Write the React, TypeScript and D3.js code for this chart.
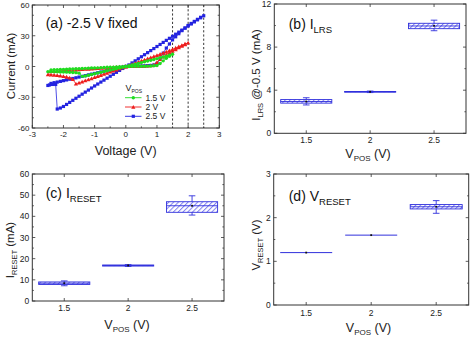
import React from "react";
import * as d3 from "d3";

const FONT = "'Liberation Sans', Arial, sans-serif";
const BLUE = "#3030dc";
const HATCH = "#8080f0";
const AXC = "#333";

// ---------- Panel (a) data: I-V sweeps [V, mA] ----------
const greenIV: [number, number][] = [
  [0,0],[0.1,0.05],[0.2,0.1],[0.3,0.15],[0.4,0.2],[0.5,0.25],[0.6,0.3],[0.7,0.4],[0.8,0.5],[0.9,0.7],[1.0,1],[1.1,3],[1.2,5.5],[1.3,8],[1.4,10],[1.5,12],
  [1.4,11],[1.3,10.1],[1.2,9.3],[1.1,8.5],[1.0,7.7],[0.9,6.9],[0.8,6.1],[0.7,5.4],[0.6,4.6],[0.5,3.8],[0.4,3],[0.3,2.3],[0.2,1.5],[0.1,0.8],[0,0],
  [-0.1,-0.7],[-0.2,-1.4],[-0.3,-2.1],[-0.4,-2.8],[-0.5,-3.5],[-0.6,-4.2],[-0.7,-4.9],[-0.8,-5.6],[-0.9,-6.3],[-1.0,-7],[-1.1,-7.8],[-1.2,-8.5],[-1.3,-9.2],[-1.4,-9.6],
  [-1.5,-6.5],[-1.6,-6],[-1.7,-5.8],[-1.8,-5.6],[-1.9,-5.5],[-2.0,-5.4],[-2.1,-5.3],[-2.2,-5.2],[-2.3,-5.1],[-2.4,-5],[-2.5,-5],
  [-2.4,-3.4],[-2.3,-3.2],[-2.2,-3.1],[-2.1,-2.9],[-2.0,-2.8],[-1.9,-2.7],[-1.8,-2.5],[-1.7,-2.4],[-1.6,-2.2],[-1.5,-2.1],[-1.4,-2],[-1.3,-1.8],[-1.2,-1.7],[-1.1,-1.5],[-1.0,-1.4],[-0.9,-1.3],[-0.8,-1.1],[-0.7,-1],[-0.6,-0.8],[-0.5,-0.7],[-0.4,-0.6],[-0.3,-0.4],[-0.2,-0.3],[-0.1,-0.1],[0,0],
];
const redIV: [number, number][] = [
  [0,0],[0.1,0.1],[0.2,0.2],[0.3,0.3],[0.4,0.3],[0.5,0.4],[0.6,0.5],[0.7,0.6],[0.8,0.8],[0.9,1.5],[1.0,4],[1.1,7],[1.2,9.5],[1.3,11.5],[1.4,13.5],[1.5,15],[1.6,16.5],[1.7,18.5],[1.8,20],[1.9,21.5],[2.0,23],
  [1.9,22],[1.8,20.7],[1.7,19.4],[1.6,18.1],[1.5,16.8],[1.4,15.6],[1.3,14.4],[1.2,13.2],[1.1,12],[1.0,10.9],[0.9,9.8],[0.8,8.7],[0.7,7.6],[0.6,6.5],[0.5,5.4],[0.4,4.3],[0.3,3.2],[0.2,2.1],[0.1,1],[0,0],
  [-0.1,-1],[-0.2,-2.1],[-0.3,-3.2],[-0.4,-4.2],[-0.5,-5.3],[-0.6,-6.4],[-0.7,-7.4],[-0.8,-8.5],[-0.9,-9.5],[-1.0,-10.6],[-1.1,-11.7],[-1.2,-12.7],[-1.3,-13.8],[-1.4,-14.9],[-1.5,-15.9],[-1.6,-17],
  [-1.7,-12.5],[-1.8,-11],[-1.9,-10.2],[-2.0,-9.6],[-2.1,-9.1],[-2.2,-8.7],[-2.3,-8.3],[-2.4,-8],[-2.5,-7.8],
  [-2.4,-4.8],[-2.3,-4.6],[-2.2,-4.4],[-2.1,-4.2],[-2.0,-4],[-1.9,-3.8],[-1.8,-3.6],[-1.7,-3.4],[-1.6,-3.2],[-1.5,-3],[-1.4,-2.8],[-1.3,-2.6],[-1.2,-2.4],[-1.1,-2.2],[-1.0,-2],[-0.9,-1.8],[-0.8,-1.6],[-0.7,-1.4],[-0.6,-1.2],[-0.5,-1],[-0.4,-0.8],[-0.3,-0.6],[-0.2,-0.4],[-0.1,-0.2],[0,0],
];
const blueIV: [number, number][] = [
  [0,0],[0.1,0.1],[0.2,0.2],[0.3,0.3],[0.4,0.4],[0.5,0.5],[0.6,0.6],[0.7,0.8],[0.8,1],[0.9,1.5],[1.0,3],[1.1,8],[1.2,13],[1.3,18],[1.4,22],[1.5,26],[1.6,29],[1.7,32],[1.8,35],[1.9,37.5],[2.0,40],[2.1,42],[2.2,44],[2.3,46],[2.4,48],[2.5,49.5],
  [2.4,47.5],[2.3,45.5],[2.2,43.5],[2.1,41.5],[2.0,39.5],[1.9,37.5],[1.8,35.5],[1.7,33.5],[1.6,31.5],[1.5,29.5],[1.4,27.5],[1.3,25.5],[1.2,23.5],[1.1,21.5],[1.0,19.5],[0.9,17.5],[0.8,15.5],[0.7,13.5],[0.6,11.5],[0.5,9.5],[0.4,7.5],[0.3,5.5],[0.2,3.5],[0.1,1.5],[0,0],
  [-0.1,-1.9],[-0.2,-3.8],[-0.3,-5.7],[-0.4,-7.6],[-0.5,-9.5],[-0.6,-11.4],[-0.7,-13.3],[-0.8,-15.2],[-0.9,-17.1],[-1.0,-19],[-1.1,-21],[-1.2,-23],[-1.3,-25],[-1.4,-27],[-1.5,-29],[-1.6,-31],[-1.7,-33],[-1.8,-35],[-1.9,-37],[-2.0,-39],[-2.1,-40.5],[-2.2,-41.5],
  [-2.25,-17.5],[-2.35,-17.5],[-2.45,-18],[-2.5,-18.5],
  [-2.4,-16.5],[-2.3,-15.8],[-2.2,-15.2],[-2.1,-14.5],[-2.0,-13.8],[-1.9,-13.1],[-1.8,-12.4],[-1.7,-11.7],[-1.6,-11],[-1.5,-10.3],[-1.4,-9.6],[-1.3,-8.9],[-1.2,-8.2],[-1.1,-7.5],[-1.0,-6.8],[-0.9,-6.1],[-0.8,-5.4],[-0.7,-4.7],[-0.6,-4],[-0.5,-3.3],[-0.4,-2.6],[-0.3,-1.9],[-0.2,-1.2],[-0.1,-0.6],[0,0],
];
const ivLabels = ["1.5 V", "2 V", "2.5 V"];
const ivColors = ["#1fdc1f", "#ee1c1c", "#2323e0"];
const ivMarkers = ["circle", "triangle", "square"];
const ivData = [greenIV, redIV, blueIV];
const dashedV = [1.5, 2, 2.5];
const ivXTicks = [-3, -2, -1, 0, 1, 2, 3];
const ivYTicks = [-60, -30, 0, 30, 60];

// ---------- Box panels: [whiskerLow, q1, median, q3, whiskerHigh, mean] ----------
const vposCats = [1.5, 2, 2.5];
const vposTickLabels = ["1.5", "2", "2.5"];
const ilrsStats = [
  [2.63, 2.8, 2.95, 3.13, 3.3, 2.95],
  [3.78, 3.82, 3.85, 3.88, 3.92, 3.85],
  [9.52, 9.71, 9.96, 10.21, 10.5, 9.98],
];
const iresetStats = [
  [7.2, 7.8, 8.4, 9.0, 9.5, 8.4],
  [16.3, 16.5, 16.8, 17.0, 17.2, 16.8],
  [40.6, 41.9, 45.0, 46.9, 49.7, 45.0],
];
const vresetStats = [
  [1.2, 1.2, 1.2, 1.2, 1.2, 1.2],
  [1.6, 1.6, 1.6, 1.6, 1.6, 1.6],
  [2.1, 2.2, 2.25, 2.3, 2.39, 2.25],
];

function Ticks({ x, y, xMajor, xMinor, yMajor, yMinor }: any) {
  const [xa, xb] = x.range();
  const [ya, yb] = y.range();
  const els: any[] = [];
  const L = 3, l = 1.6;
  xMajor.forEach((v: number, i: number) => {
    const px = x(v);
    els.push(<line key={"xM" + i} x1={px} x2={px} y1={ya} y2={ya - L} />);
    els.push(<line key={"xMt" + i} x1={px} x2={px} y1={yb} y2={yb + L} />);
  });
  xMinor.forEach((v: number, i: number) => {
    const px = x(v);
    els.push(<line key={"xm" + i} x1={px} x2={px} y1={ya} y2={ya - l} />);
    els.push(<line key={"xmt" + i} x1={px} x2={px} y1={yb} y2={yb + l} />);
  });
  yMajor.forEach((v: number, i: number) => {
    const py = y(v);
    els.push(<line key={"yM" + i} x1={xa} x2={xa + L} y1={py} y2={py} />);
    els.push(<line key={"yMr" + i} x1={xb} x2={xb - L} y1={py} y2={py} />);
  });
  yMinor.forEach((v: number, i: number) => {
    const py = y(v);
    els.push(<line key={"ym" + i} x1={xa} x2={xa + l} y1={py} y2={py} />);
    els.push(<line key={"ymr" + i} x1={xb} x2={xb - l} y1={py} y2={py} />);
  });
  return <g stroke={AXC} strokeWidth={0.8}>{els}</g>;
}

function Marker({ kind, cx, cy, color }: any) {
  if (kind === "circle") return <circle cx={cx} cy={cy} r={1.7} fill={color} />;
  if (kind === "square") return <rect x={cx - 1.6} y={cy - 1.6} width={3.2} height={3.2} fill={color} />;
  const s = 2.1;
  return <path d={`M${cx},${cy - s}L${cx + s},${cy + s * 0.8}L${cx - s},${cy + s * 0.8}Z`} fill={color} />;
}

function IVPanel() {
  const x = d3.scaleLinear().domain([-3, 3]).range([32.3, 219.3]);
  const y = d3.scaleLinear().domain([-60, 60]).range([128, 5]);
  const line = d3.line<[number, number]>().x((d) => x(d[0])).y((d) => y(d[1]));
  const xMinor = d3.range(-2.5, 3, 1);
  const yMinor = d3.range(-50, 60, 10).filter((v) => v % 30 !== 0);
  const order = [2, 1, 0];
  return (
    <g fontFamily={FONT}>
      {dashedV.map((v) => (
        <line key={v} x1={x(v)} x2={x(v)} y1={y(60)} y2={y(-60)} stroke="#222" strokeWidth={0.9} strokeDasharray="2.2,2" />
      ))}
      {order.map((k) => (
        <g key={k}>
          <path d={line(ivData[k]) || ""} fill="none" stroke={ivColors[k]} strokeWidth={0.8} />
          {ivData[k].map((d, i) => (
            <Marker key={i} kind={ivMarkers[k]} cx={x(d[0])} cy={y(d[1])} color={ivColors[k]} />
          ))}
        </g>
      ))}
      <rect x={32.3} y={5} width={187} height={123} fill="none" stroke={AXC} strokeWidth={1} />
      <Ticks x={x} y={y} xMajor={ivXTicks} xMinor={xMinor} yMajor={ivYTicks} yMinor={yMinor} />
      {ivXTicks.map((v) => (
        <text key={v} x={x(v)} y={137} fontSize={8} textAnchor="middle" fill="#222">{v}</text>
      ))}
      {ivYTicks.map((v) => (
        <text key={v} x={29.5} y={y(v) + 3} fontSize={8} textAnchor="end" fill="#222">{v}</text>
      ))}
      <text x={45.7} y={28.3} fontSize={14} fill="#111">(a) -2.5 V fixed</text>
      <text x={125.7} y={155.3} fontSize={12.5} textAnchor="middle" fill="#222">Voltage (V)</text>
      <text transform="translate(14.5,66) rotate(-90)" fontSize={11.5} textAnchor="middle" fill="#222">Current (mA)</text>
      <text x={125.5} y={91} fontSize={9} fill="#222">V<tspan fontSize={5} dy={2}>POS</tspan></text>
      {ivLabels.map((lab, i) => {
        const ly = 97.7 + i * 9.3;
        return (
          <g key={lab}>
            <line x1={125} x2={141.5} y1={ly} y2={ly} stroke={ivColors[i]} strokeWidth={0.9} />
            <Marker kind={ivMarkers[i]} cx={133.3} cy={ly} color={ivColors[i]} />
            <text x={145.5} y={ly + 3} fontSize={8.5} fill="#222">{lab}</text>
          </g>
        );
      })}
    </g>
  );
}

function BoxPanel({ x0, x1, yb, yt, yDomain, yMajor, yMinor, stats, title, titleSub, tx, ty,
  ylabMain, ylabSub, ylabRest, ylx, yly, xlabX, xlabY, xTickY }: any) {
  const x = d3.scaleLinear().domain([1.25, 2.75]).range([x0, x1]);
  const y = d3.scaleLinear().domain(yDomain).range([yb, yt]);
  const hw = x(1.7) - x(1.5);
  return (
    <g fontFamily={FONT}>
      {stats.map((s: number[], i: number) => {
        const cx = x(vposCats[i]);
        const top = y(s[3]), bot = y(s[1]);
        const h = Math.max(bot - top, 0);
        const isBox = h > 0.5;
        return (
          <g key={i} stroke={BLUE} strokeWidth={0.9}>
            {isBox && <rect x={cx - hw} y={top} width={2 * hw} height={h} fill="url(#hatch)" />}
            <line x1={cx - hw} x2={cx + hw} y1={y(s[2])} y2={y(s[2])} strokeWidth={isBox ? 0.9 : 1} />
            <line x1={cx} x2={cx} y1={y(s[4])} y2={top} />
            <line x1={cx} x2={cx} y1={y(s[0])} y2={bot} />
            {s[4] !== s[0] && <line x1={cx - 3.3} x2={cx + 3.3} y1={y(s[4])} y2={y(s[4])} />}
            {s[4] !== s[0] && <line x1={cx - 3.3} x2={cx + 3.3} y1={y(s[0])} y2={y(s[0])} />}
            <rect x={cx - 0.9} y={y(s[5]) - 0.9} width={1.8} height={1.8} fill="#111" stroke="none" />
          </g>
        );
      })}
      <rect x={x0} y={yt} width={x1 - x0} height={yb - yt} fill="none" stroke={AXC} strokeWidth={1} />
      <Ticks x={x} y={y} xMajor={vposCats} xMinor={[]} yMajor={yMajor} yMinor={yMinor} />
      {vposCats.map((v, i) => (
        <text key={v} x={x(v)} y={xTickY} fontSize={8.5} textAnchor="middle" fill="#222">{vposTickLabels[i]}</text>
      ))}
      {yMajor.map((v: number) => (
        <text key={v} x={x0 - 3} y={y(v) + 3} fontSize={8.5} textAnchor="end" fill="#222">{v}</text>
      ))}
      <text x={tx} y={ty} fontSize={14} fill="#111">{title}<tspan fontSize={9.5} dy={4}>{titleSub}</tspan></text>
      <text x={xlabX} y={xlabY} fontSize={12.5} textAnchor="middle" fill="#222">V<tspan fontSize={8} dy={3}>POS</tspan><tspan dy={-3}> (V)</tspan></text>
      <text transform={`translate(${ylx},${yly}) rotate(-90)`} fontSize={11.5} textAnchor="middle" fill="#222">
        {ylabMain}<tspan fontSize={7.5} dy={3}>{ylabSub}</tspan><tspan dy={-3}>{ylabRest}</tspan>
      </text>
    </g>
  );
}

export default function App() {
  return (
    <svg width={474} height={341} style={{ position: "absolute", left: 0, top: 0, background: "#fff" }}>
      <defs>
        <pattern id="hatch" patternUnits="userSpaceOnUse" width={3.4} height={3.4} patternTransform="rotate(45)">
          <rect width={3.4} height={3.4} fill="#fff" />
          <line x1={0.5} y1={0} x2={0.5} y2={3.4} stroke={HATCH} strokeWidth={1} />
        </pattern>
      </defs>
      <rect width={474} height={341} fill="#fff" />
      <IVPanel />
      <BoxPanel x0={274.3} x1={466} yb={133.3} yt={4} yDomain={[0, 12]} yMajor={[0, 4, 8, 12]} yMinor={[2, 6, 10]}
        stats={ilrsStats} title="(b) I" titleSub="LRS" tx={288.7} ty={29.3}
        ylabMain="I" ylabSub="LRS" ylabRest=" @-0.5 V (mA)" ylx={259.5} yly={75}
        xlabX={368} xlabY={158} xTickY={143} />
      <BoxPanel x0={32.3} x1={224} yb={301} yt={174} yDomain={[0, 60]} yMajor={[0, 10, 20, 30, 40, 50, 60]} yMinor={[5, 15, 25, 35, 45, 55]}
        stats={iresetStats} title="(c) I" titleSub="RESET" tx={45.7} ty={198.3}
        ylabMain="I" ylabSub="RESET" ylabRest=" (mA)" ylx={14} yly={250}
        xlabX={127} xlabY={329} xTickY={311} />
      <BoxPanel x0={273.7} x1={468.7} yb={305} yt={174} yDomain={[0, 3]} yMajor={[0, 1, 2, 3]} yMinor={[0.5, 1.5, 2.5]}
        stats={vresetStats} title="(d) V" titleSub="RESET" tx={288.7} ty={200.7}
        ylabMain="V" ylabSub="RESET" ylabRest=" (V)" ylx={259.5} yly={245}
        xlabX={368.5} xlabY={331.5} xTickY={315.7} />
    </svg>
  );
}
